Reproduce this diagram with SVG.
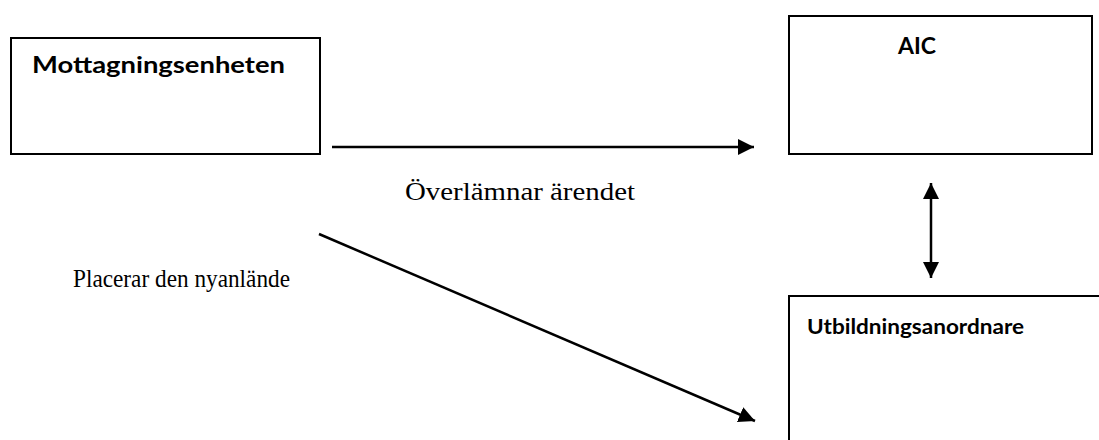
<svg xmlns="http://www.w3.org/2000/svg" width="1099" height="440" viewBox="0 0 1099 440">
<style>
.box{fill:#fff;stroke:#000;stroke-width:2}
.lbl{font-family:Lato,"Open Sans","Liberation Sans",sans-serif;font-weight:bold;fill:#000}
.edge{font-family:"Liberation Serif",serif;fill:#000}
.con{stroke:#000;stroke-width:2.5;fill:none}
</style>
<defs>
<marker id="ah" viewBox="0 0 10 10" refX="10" refY="5" markerWidth="6.5" markerHeight="6.5" markerUnits="strokeWidth" orient="auto-start-reverse">
<path d="M0,0 L10,5 L0,10 z" fill="#000"/>
</marker>
</defs>
<rect width="1099" height="440" fill="#fff"/>
<g id="mottagningsenheten">
<rect class="box" x="11" y="38" width="309" height="116"/>
<text class="lbl" x="32" y="73" font-size="22" textLength="253" lengthAdjust="spacingAndGlyphs">Mottagningsenheten</text>
</g>
<g id="aic">
<rect class="box" x="789" y="16" width="303" height="138"/>
<text class="lbl" x="898" y="54" font-size="23" textLength="38" lengthAdjust="spacingAndGlyphs">AIC</text>
</g>
<g id="utbildningsanordnare">
<rect class="box" x="789" y="296" width="320" height="160"/>
<text class="lbl" x="807" y="334" font-size="21" textLength="217" lengthAdjust="spacingAndGlyphs">Utbildningsanordnare</text>
</g>
<g id="connectors">
<line class="con" x1="332" y1="147" x2="754" y2="147" marker-end="url(#ah)"/>
<line class="con" x1="931" y1="183" x2="931" y2="278" marker-start="url(#ah)" marker-end="url(#ah)"/>
<line class="con" x1="319" y1="234" x2="755" y2="421" marker-end="url(#ah)"/>
<text class="edge" x="405" y="200" font-size="26" textLength="230" lengthAdjust="spacingAndGlyphs">Överlämnar ärendet</text>
<text class="edge" x="73" y="287" font-size="26" textLength="217" lengthAdjust="spacingAndGlyphs">Placerar den nyanlände</text>
</g>
</svg>
